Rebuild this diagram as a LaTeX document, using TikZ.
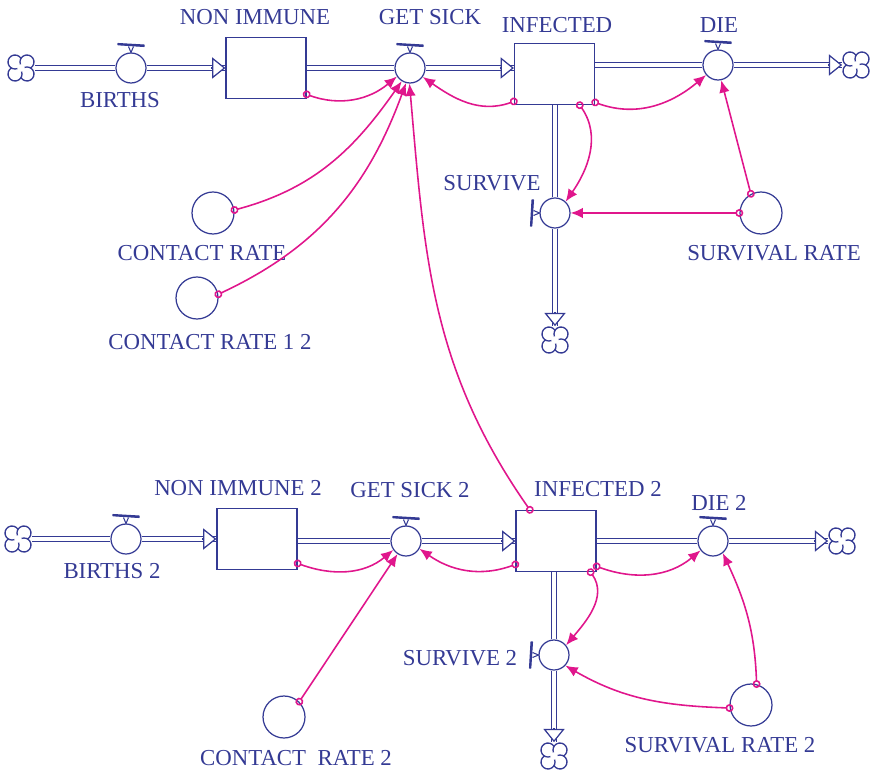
\documentclass[tikz,border=0pt]{standalone}
\usepackage{fontspec}
\setmainfont{Liberation Serif}
\usetikzlibrary{arrows.meta,positioning,calc}
\definecolor{vblue}{RGB}{52,58,148}
\definecolor{vpink}{RGB}{224,22,140}

\tikzset{
  level/.style={draw=vblue, line width=0.7pt, rectangle, minimum width=1.6cm,
    minimum height=1.22cm, inner sep=0pt},
  valve/.style={draw=vblue, line width=0.7pt, circle, minimum size=0.6cm, inner sep=0pt},
  aux/.style={draw=vblue, line width=0.7pt, circle, minimum size=0.84cm, inner sep=0pt},
  lbl/.style={text=vblue, font=\fontsize{13}{15}\selectfont, inner sep=0pt},
  flow/.style={draw=vblue, line width=0.6pt, double=white, double distance=2pt},
  flowhead/.style={draw=vblue, line width=0.7pt, -{Triangle[fill=white, length=7.5pt, width=12pt]}},
  link/.style={draw=vpink, line width=0.9pt,
    {Circle[open, length=4.5pt]}-{Latex[length=7pt, width=6pt]}, shorten <=-2.2pt},
  valvebar/.style={draw=vblue, line width=0.6pt, fill=vblue, line join=round},
  sinkcloud/.style={rectangle, minimum size=0.54cm, inner sep=0pt},
  cloudline/.style={draw=vblue, line width=0.75pt},
}

\begin{document}
\begin{tikzpicture}[x=0.02cm, y=0.02cm]
\useasboundingbox (0,0) rectangle (875,-773);

% upper model
\node[sinkcloud] (src1) at (21,-68) {};
\node[valve] (births) at (131,-68) {};
\node[level] (nonimm) at (266,-68) {};
\node[valve] (getsick) at (410,-68) {};
\node[level] (inf) at (554.5,-74) {};
\node[valve] (die) at (718,-65) {};
\node[sinkcloud] (sink1) at (856,-65) {};
\node[valve] (survive) at (555,-213) {};
\node[sinkcloud] (sink3) at (555,-340) {};
\node[aux] (crate) at (213,-213) {};
\node[aux] (crate12) at (197,-298) {};
\node[aux] (srate) at (761,-213) {};

\node[lbl] (lnonimm) at (255,-17) {NON IMMUNE};
\node[lbl] (lgetsick) at (430,-17) {GET SICK};
\node[lbl] (linf) at (557,-25) {INFECTED};
\node[lbl] (ldie) at (719,-25) {DIE};
\node[lbl] (lbirths) at (120,-100) {BIRTHS};
\node[lbl] (lsurvive) at (492,-183) {SURVIVE};
\node[lbl] (lcrate) at (202,-253) {CONTACT RATE};
\node[lbl] (lsrate) at (774,-253) {SURVIVAL RATE};
\node[lbl] (lcrate12) at (210,-342) {CONTACT RATE 1 2};

% lower model
\node[sinkcloud] (src2) at (18,-539) {};
\node[valve] (births2) at (126,-539) {};
\node[level] (nonimm2) at (257,-539) {};
\node[valve] (getsick2) at (406,-541) {};
\node[level] (inf2) at (556,-541) {};
\node[valve] (die2) at (713,-541) {};
\node[sinkcloud] (sink2) at (842,-541) {};
\node[valve] (survive2) at (554,-655) {};
\node[sinkcloud] (sink4) at (554,-756) {};
\node[aux] (crate2) at (284,-717) {};
\node[aux] (srate2) at (751,-705) {};

\node[lbl] (lnonimm2) at (238,-488) {NON IMMUNE 2};
\node[lbl] (lgetsick2) at (410,-490) {GET SICK 2};
\node[lbl] (linf2) at (598,-489) {INFECTED 2};
\node[lbl] (ldie2) at (719,-503) {DIE 2};
\node[lbl] (lbirths2) at (112,-571) {BIRTHS 2};
\node[lbl] (lsurvive2) at (460,-658) {SURVIVE 2};
\node[lbl] (lcrate2) at (296,-758) {CONTACT\ \ RATE 2};
\node[lbl] (lsrate2) at (720,-745) {SURVIVAL RATE 2};

% clouds: four lobes curling into a pinwheel
\foreach \c in {src1, sink1, sink3, src2, sink2, sink4} {
  \foreach \k in {0,90,180,270}
    \draw[cloudline, shift={(\c.center)}, rotate=\k]
      (9.6,0) arc[start angle=-59, end angle=200, radius=7];
}

% valve handles
\foreach \v/\r in {births/0, getsick/0, die/0, births2/0, getsick2/0, die2/0,
                   survive/90, survive2/90} {
  \begin{scope}[shift={(\v.center)}, rotate=\r]
    \draw[valvebar] (-13,24.5) -- (13,23) -- (13,21.5) -- (-13,23.2) -- cycle;
    \draw[vblue, line width=0.6pt] (-2.5,21.5) -- (0,15.5) -- (2.5,21.5);
  \end{scope}
}

% pipes
\coordinate (in1) at (getsick -| inf.west);
\coordinate (out1) at (inf.south -| survive);
\draw[flow] (src1) -- (births);
\draw[flow] (births) -- (nonimm.west);
\draw[flow] (nonimm.east |- getsick) -- (getsick);
\draw[flow] (getsick) -- (in1);
\draw[flow] (inf.east |- die) -- (die);
\draw[flow] (die) -- (sink1);
\draw[flow] (out1) -- (survive);
\draw[flow] (survive) -- (sink3);
\draw[flowhead] ($(nonimm.west)+(-8pt,0)$) -- (nonimm.west);
\draw[flowhead] ($(in1)+(-8pt,0)$) -- (in1);
\draw[flowhead] ($(sink1.west)+(-8pt,0)$) -- (sink1.west);
\draw[flowhead] ($(sink3.north)+(0,8pt)$) -- (sink3.north);

\coordinate (out2) at (inf2.south -| survive2);
\draw[flow] (src2) -- (births2);
\draw[flow] (births2) -- (nonimm2.west);
\draw[flow] (nonimm2.east |- getsick2) -- (getsick2);
\draw[flow] (getsick2) -- (inf2.west);
\draw[flow] (inf2.east) -- (die2);
\draw[flow] (die2) -- (sink2);
\draw[flow] (out2) -- (survive2);
\draw[flow] (survive2) -- (sink4);
\draw[flowhead] ($(nonimm2.west)+(-8pt,0)$) -- (nonimm2.west);
\draw[flowhead] ($(inf2.west)+(-8pt,0)$) -- (inf2.west);
\draw[flowhead] ($(sink2.west)+(-8pt,0)$) -- (sink2.west);
\draw[flowhead] ($(sink4.north)+(0,8pt)$) -- (sink4.north);

% influence links
\draw[link] (nonimm.-33) to[out=-20, in=220] (getsick.213);
\draw[link] (crate.8) to[out=15, in=235] (getsick.238);
\draw[link] (crate12.10) to[out=25, in=250] (getsick.255);
\draw[link] (inf2.130) to[out=125, in=-85] (getsick.268);
\draw[link] (inf.214) to[out=200, in=-35] (getsick.-35);
\draw[link] (inf.-35) to[out=-20, in=220] (die.220);
\draw[link] (inf.-51) to[out=-55, in=55] (survive.47);
\draw[link] (srate.180) -- (survive.0);
\draw[link] (srate.118) -- (die.-78);

\draw[link] (nonimm2.-31) to[out=-20, in=220] (getsick2.215);
\draw[link] (crate2.45) -- (getsick2.237);
\draw[link] (inf2.210) to[out=200, in=-35] (getsick2.-30);
\draw[link] (inf2.-32) to[out=-20, in=220] (die2.217);
\draw[link] (inf2.-42) to[out=-55, in=50] (survive2.39);
\draw[link] (srate2.188) to[out=178, in=-30] (survive2.-43);
\draw[link] (srate2.75) to[out=92, in=-65] (die2.-51);
\end{tikzpicture}
\end{document}
